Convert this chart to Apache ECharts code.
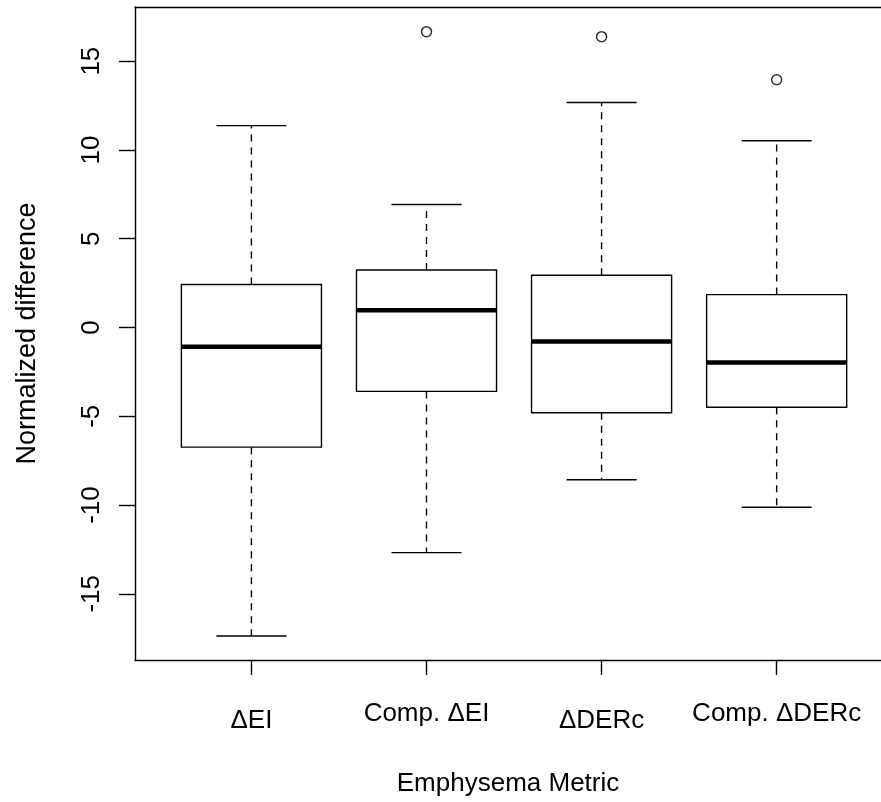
<!DOCTYPE html>
<html>
<head>
<meta charset="utf-8">
<script src="https://cdn.jsdelivr.net/npm/echarts@6/dist/echarts.min.js"></script>
<style>
html,body{margin:0;padding:0;background:#fff;}
#chart{width:881px;height:802px;}
</style>
</head>
<body>
<div id="chart"></div>
<script>
// ---- data ----
var categories = ['ΔEI', 'Comp. ΔEI', 'ΔDERc', 'Comp. ΔDERc'];
var positions = [1, 2, 3, 4];
var whiskerLow = [-17.38, -12.68, -8.58, -10.13];
var q1 = [-6.74, -3.60, -4.80, -4.49];
var medians = [-1.09, 0.97, -0.79, -1.97];
var q3 = [2.42, 3.24, 2.94, 1.85];
var whiskerHigh = [11.37, 6.93, 12.67, 10.52];
var outlierX = [2, 3, 4];
var outlierY = [16.66, 16.38, 13.95];
var yTicks = [-15, -10, -5, 0, 5, 10, 15];

var FONT = "'Liberation Sans', Arial, Helvetica, sans-serif";

var boxData = positions.map(function (p, i) {
  return [p, whiskerLow[i], q1[i], medians[i], q3[i], whiskerHigh[i]];
});
var outlierData = outlierX.map(function (x, i) { return [x, outlierY[i]]; });

function renderBox(params, api) {
  var x = api.value(0);
  var lo = api.value(1), a = api.value(2), m = api.value(3), b = api.value(4), hi = api.value(5);
  var hw = 0.4, cw = 0.2;
  function pt(xx, yy) { return api.coord([xx, yy]); }
  var dash = { stroke: '#000', lineWidth: 1.4, lineDash: [7, 6] };
  var solid = { stroke: '#000', lineWidth: 1.4 };
  var pTL = pt(x - hw, b), pBR = pt(x + hw, a);
  return {
    type: 'group',
    children: [
      { type: 'line', shape: { x1: pt(x, b)[0], y1: pt(x, b)[1], x2: pt(x, hi)[0], y2: pt(x, hi)[1] }, style: dash },
      { type: 'line', shape: { x1: pt(x, a)[0], y1: pt(x, a)[1], x2: pt(x, lo)[0], y2: pt(x, lo)[1] }, style: dash },
      { type: 'line', shape: { x1: pt(x - cw, hi)[0], y1: pt(x - cw, hi)[1], x2: pt(x + cw, hi)[0], y2: pt(x + cw, hi)[1] }, style: solid },
      { type: 'line', shape: { x1: pt(x - cw, lo)[0], y1: pt(x - cw, lo)[1], x2: pt(x + cw, lo)[0], y2: pt(x + cw, lo)[1] }, style: solid },
      { type: 'rect', shape: { x: pTL[0], y: pTL[1], width: pBR[0] - pTL[0], height: pBR[1] - pTL[1] },
        style: { fill: '#fff', stroke: '#000', lineWidth: 1.4 } },
      { type: 'line', shape: { x1: pt(x - hw, m)[0], y1: pt(x - hw, m)[1], x2: pt(x + hw, m)[0], y2: pt(x + hw, m)[1] },
        style: { stroke: '#000', lineWidth: 4.5 } }
    ]
  };
}

var axisLineStyle = { color: '#000', width: 1.4 };

var chart = echarts.init(document.getElementById('chart'), null, { renderer: 'canvas' });
chart.setOption({
  animation: false,
  backgroundColor: '#fff',
  grid: { left: 135, right: 0, top: 7, bottom: 140, show: false },
  xAxis: [
    {
      type: 'value', min: 0.335, max: 4.596, position: 'bottom',
      splitLine: { show: false },
      axisLine: { show: true, onZero: false, lineStyle: axisLineStyle },
      axisTick: { show: true, inside: false, length: 15, customValues: positions, lineStyle: axisLineStyle },
      axisLabel: {
        customValues: positions, margin: 41, color: '#000', fontFamily: FONT, fontSize: 26,
        formatter: function (v) {
          var i = positions.indexOf(v);
          var t = categories[i];
          return t.indexOf('Comp') === 0 ? '{u|' + t + '}' : '{d|' + t + '}';
        },
        rich: {
          u: { fontFamily: FONT, fontSize: 26, color: '#000' },
          d: { fontFamily: FONT, fontSize: 26, color: '#000', padding: [7, 0, 0, 0] }
        }
      },
      name: 'Emphysema Metric', nameLocation: 'middle', nameGap: 111,
      nameTextStyle: { color: '#000', fontFamily: FONT, fontSize: 26 }
    },
    {
      type: 'value', min: 0.335, max: 4.596, position: 'top',
      splitLine: { show: false },
      axisLine: { show: true, onZero: false, lineStyle: axisLineStyle },
      axisTick: { show: false },
      axisLabel: { show: false }
    }
  ],
  yAxis: {
    type: 'value', min: -18.73, max: 18.05,
    splitLine: { show: false },
    axisLine: { show: true, onZero: false, lineStyle: axisLineStyle },
    axisTick: { show: true, inside: false, length: 16, customValues: yTicks, lineStyle: axisLineStyle },
    axisLabel: { customValues: yTicks, rotate: 90, margin: 30, color: '#000', fontFamily: FONT, fontSize: 26 },
    name: 'Normalized difference', nameLocation: 'middle', nameGap: 94, nameRotate: 90,
    nameTextStyle: { color: '#000', fontFamily: FONT, fontSize: 27 }
  },
  series: [
    {
      type: 'custom', renderItem: renderBox, data: boxData, xAxisIndex: 0,
      encode: { x: 0, y: [1, 2, 3, 4, 5] }, clip: false
    },
    {
      type: 'scatter', data: outlierData, symbol: 'circle', symbolSize: 10, xAxisIndex: 0,
      itemStyle: { color: 'transparent', borderColor: '#000', borderWidth: 1.5 }
    }
  ]
});
</script>
</body>
</html>
